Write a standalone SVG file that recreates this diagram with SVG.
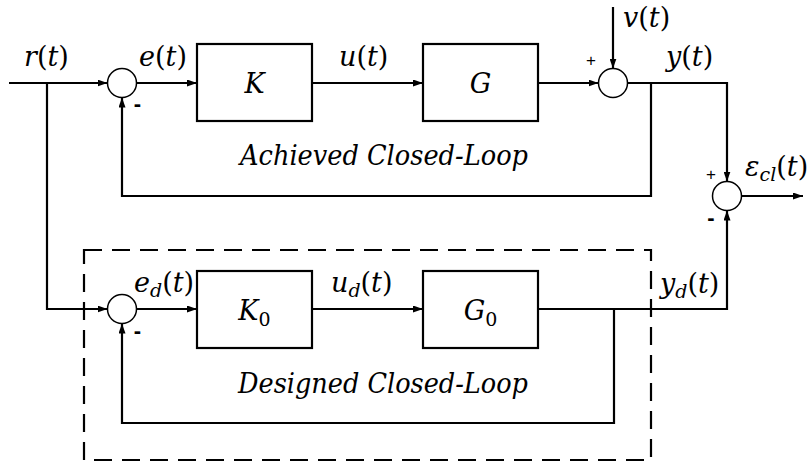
<svg xmlns="http://www.w3.org/2000/svg" width="808" height="470" viewBox="0 0 808 470">
<defs>
<style>
.box{fill:#fff;stroke:#000;stroke-width:2.2}
.sum{fill:#fff;stroke:#000;stroke-width:1.5}
.wire{fill:none;stroke:#000;stroke-width:2.2}
.dash{fill:none;stroke:#000;stroke-width:2.2;stroke-dasharray:18 10}
text{fill:#000}
.ser{font-family:'DejaVu Serif','Liberation Serif',serif}
.m{font-size:27px}
.i{font-style:italic}
.sub{font-size:19px}
.note{font-size:27px;font-style:italic}
.san{font-family:'Liberation Sans','DejaVu Sans',sans-serif}
.plus{font-size:17px}
.minus{font-size:22px;font-weight:bold}
</style>
<marker id="arr" markerUnits="userSpaceOnUse" markerWidth="10" markerHeight="7" refX="10" refY="3.5" orient="auto">
<path d="M0,0 L10,3.5 L0,7 z" fill="#000"/>
</marker>
</defs>
<rect width="808" height="470" fill="#fff"/>

<g id="designed-region">
<rect class="dash" x="84" y="250" width="567" height="210"/>
</g>

<g id="connectors">
<path class="wire" d="M9,83 H107.5" marker-end="url(#arr)"/>
<path class="wire" d="M47,83 V309 H107.5" marker-end="url(#arr)"/>
<path class="wire" d="M136.5,83 H197" marker-end="url(#arr)"/>
<path class="wire" d="M312,83 H423" marker-end="url(#arr)"/>
<path class="wire" d="M538,83 H598.5" marker-end="url(#arr)"/>
<path class="wire" d="M613,7 V68.5" marker-end="url(#arr)"/>
<path class="wire" d="M627.5,83 H727 V181.5" marker-end="url(#arr)"/>
<path class="wire" d="M651,83 V196 H122 V97.5" marker-end="url(#arr)"/>
<path class="wire" d="M741.5,196 H803" marker-end="url(#arr)"/>
<path class="wire" d="M136.5,309 H197" marker-end="url(#arr)"/>
<path class="wire" d="M312,309 H423" marker-end="url(#arr)"/>
<path class="wire" d="M538,309 H727 V210.5" marker-end="url(#arr)"/>
<path class="wire" d="M614,309 V423 H122 V323.5" marker-end="url(#arr)"/>
</g>

<g id="sum1"><circle class="sum" cx="122" cy="83" r="14.5"/><text class="san minus" x="137.5" y="111" text-anchor="middle">-</text></g>
<g id="K"><rect class="box" x="197" y="44" width="115" height="77"/><text class="ser m i" x="254.5" y="93" text-anchor="middle">K</text></g>
<g id="G"><rect class="box" x="423" y="44" width="115" height="77"/><text class="ser m i" x="480.5" y="93" text-anchor="middle">G</text></g>
<g id="sum2"><circle class="sum" cx="613" cy="83" r="14.5"/><text class="san plus" x="591" y="66" text-anchor="middle">+</text></g>
<g id="sum3"><circle class="sum" cx="727" cy="196" r="14.5"/><text class="san plus" x="711" y="180" text-anchor="middle">+</text><text class="san minus" x="711" y="225" text-anchor="middle">-</text></g>
<g id="sum4"><circle class="sum" cx="122" cy="309" r="14.5"/><text class="san minus" x="137.5" y="338" text-anchor="middle">-</text></g>
<g id="K0"><rect class="box" x="197" y="271" width="115" height="77"/><text class="ser m" x="254.5" y="320" text-anchor="middle"><tspan class="i">K</tspan><tspan class="sub" dy="6">0</tspan></text></g>
<g id="G0"><rect class="box" x="423" y="271" width="115" height="77"/><text class="ser m" x="480.5" y="320" text-anchor="middle"><tspan class="i">G</tspan><tspan class="sub" dy="6">0</tspan></text></g>

<g id="labels">
<text class="ser m" x="24" y="66"><tspan class="i">r</tspan>(<tspan class="i">t</tspan>)</text>
<text class="ser m" x="139" y="66"><tspan class="i">e</tspan>(<tspan class="i">t</tspan>)</text>
<text class="ser m" x="339" y="66"><tspan class="i">u</tspan>(<tspan class="i">t</tspan>)</text>
<text class="ser m" x="623" y="27"><tspan class="i">v</tspan>(<tspan class="i">t</tspan>)</text>
<text class="ser m" x="666" y="66"><tspan class="i">y</tspan>(<tspan class="i">t</tspan>)</text>
<text class="ser m" x="745" y="176"><tspan class="i">ε</tspan><tspan class="i sub" dy="5">cl</tspan><tspan dy="-5">(</tspan><tspan class="i">t</tspan>)</text>
<text class="ser m" x="134" y="292"><tspan class="i">e</tspan><tspan class="i sub" dy="5">d</tspan><tspan dy="-5">(</tspan><tspan class="i">t</tspan>)</text>
<text class="ser m" x="331" y="292"><tspan class="i">u</tspan><tspan class="i sub" dy="5">d</tspan><tspan dy="-5">(</tspan><tspan class="i">t</tspan>)</text>
<text class="ser m" x="660" y="293"><tspan class="i">y</tspan><tspan class="i sub" dy="5">d</tspan><tspan dy="-5">(</tspan><tspan class="i">t</tspan>)</text>
<text class="ser note" x="240" y="165" textLength="288" lengthAdjust="spacingAndGlyphs">Achieved Closed-Loop</text>
<text class="ser note" x="238" y="393" textLength="290" lengthAdjust="spacingAndGlyphs">Designed Closed-Loop</text>
</g>
</svg>
